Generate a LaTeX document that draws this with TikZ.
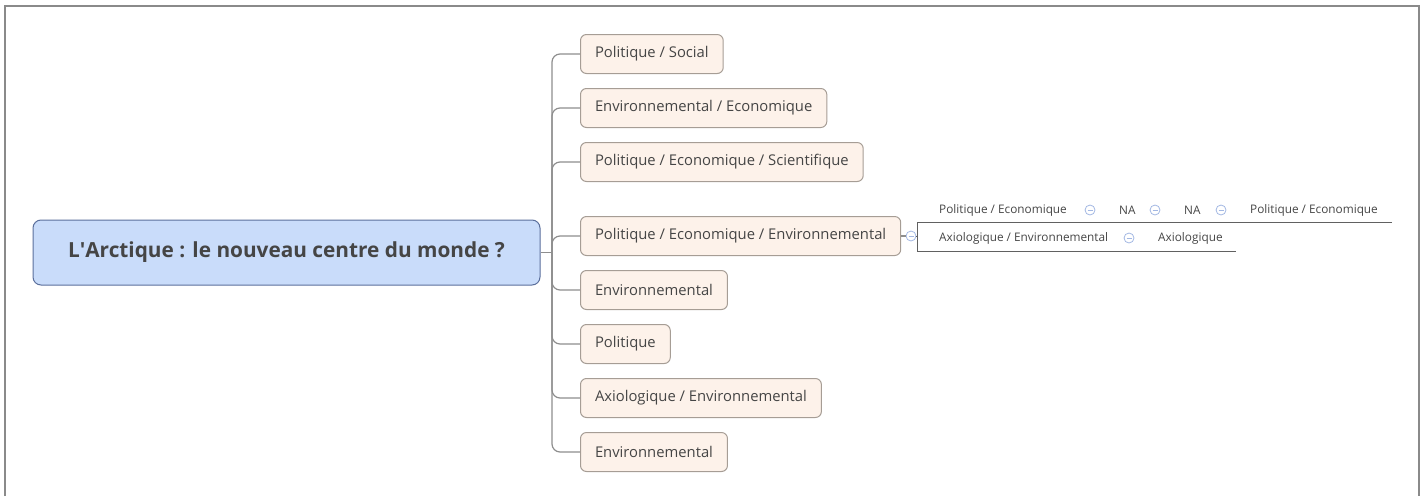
\documentclass[tikz,border=0pt]{standalone}
\usepackage{fontspec}
\setmainfont{Open Sans}
\usetikzlibrary{positioning}
\definecolor{rootfill}{HTML}{C9DCFA}
\definecolor{rootline}{HTML}{5B6F9C}
\definecolor{subfill}{HTML}{FDF2EA}
\definecolor{subline}{HTML}{A69D95}
\definecolor{inkgray}{HTML}{454545}
\definecolor{linkgray}{HTML}{8E8E8E}
\definecolor{togblue}{HTML}{A3B8E3}
\definecolor{framegray}{HTML}{8A8A8A}

\begin{document}
\begin{tikzpicture}[x=1pt, y=-1pt,
    root/.style={draw=rootline, fill=rootfill, text=inkgray, line width=1pt,
                 rounded corners=8pt, minimum width=507pt, minimum height=65pt,
                 font=\fontsize{20.8}{24}\selectfont\bfseries},
    sub/.style={draw=subline, fill=subfill, text=inkgray, line width=1pt,
                rounded corners=6pt, minimum height=39pt, inner xsep=14.5pt,
                anchor=west, font=\fontsize{14.8}{17}\selectfont},
    leaf/.style={text=inkgray, inner sep=0pt, anchor=west,
                 font=\fontsize{11.8}{14}\selectfont},
    toggle/.style={circle, draw=togblue, line width=0.8pt, minimum size=10pt,
                   inner sep=0pt, fill=white,
                   path picture={\draw[togblue, line width=0.8pt]
                     ([xshift=-2.5pt]path picture bounding box.center) --
                     ([xshift=2.5pt]path picture bounding box.center);}},
    link/.style={draw=linkgray, line width=1.2pt, rounded corners=8pt},
    rule/.style={draw=inkgray!85, line width=1pt},
]
  \useasboundingbox (0,0) rectangle (1428,496);

  % frame
  \draw[framegray, line width=2pt] (5,496) -- (5,6) -- (1419,6) -- (1419,496);

  % central topic
  \node[root] (arc) at (286.5,252.5) {L\textquotesingle Arctique : le nouveau centre du monde ?};
  \coordinate (hub) at (552,252.5);

  % main branches
  \node[sub] (pso) at (580,54)  {Politique / Social};
  \node[sub] (eec) at (580,108) {Environnemental / Economique};
  \node[sub] (pes) at (580,162) {Politique / Economique / Scientifique};
  \node[sub] (pee) at (580,236) {Politique / Economique / Environnemental};
  \node[sub] (en1) at (580,290) {Environnemental};
  \node[sub] (pol) at (580,344) {Politique};
  \node[sub] (axe) at (580,398) {Axiologique / Environnemental};
  \node[sub] (en2) at (580,452) {Environnemental};

  \draw[link] (arc.east) -- (hub);
  \foreach \n in {pso,eec,pes,pee,en1,pol,axe,en2}
    \draw[link] (hub) |- (\n.west);

  % sub-branch of pee
  \node[toggle] (tg) at (911,236) {};
  \draw[link] (pee.east) -- (tg.west);
  \coordinate (bt) at (917,222);
  \coordinate (bb) at (917,251);
  \draw[rule] (tg.east) -- (917,236);
  \draw[rule] (1392,222) -- (bt) -- (bb) -- (1236,251);

  \node[leaf] (pe1) at (939,210) {Politique / Economique};
  \node[toggle] (t1) at (1090,210) {};
  \node[leaf] (na1) at (1119,210) {NA};
  \node[toggle] (t2) at (1155,210) {};
  \node[leaf] (na2) at (1184,210) {NA};
  \node[toggle] (t3) at (1221,210) {};
  \node[leaf] (pe2) at (1250,210) {Politique / Economique};

  \node[leaf] (ae1) at (939,238) {Axiologique / Environnemental};
  \node[toggle] (t4) at (1129,238) {};
  \node[leaf] (axi) at (1158,238) {Axiologique};
\end{tikzpicture}
\end{document}
